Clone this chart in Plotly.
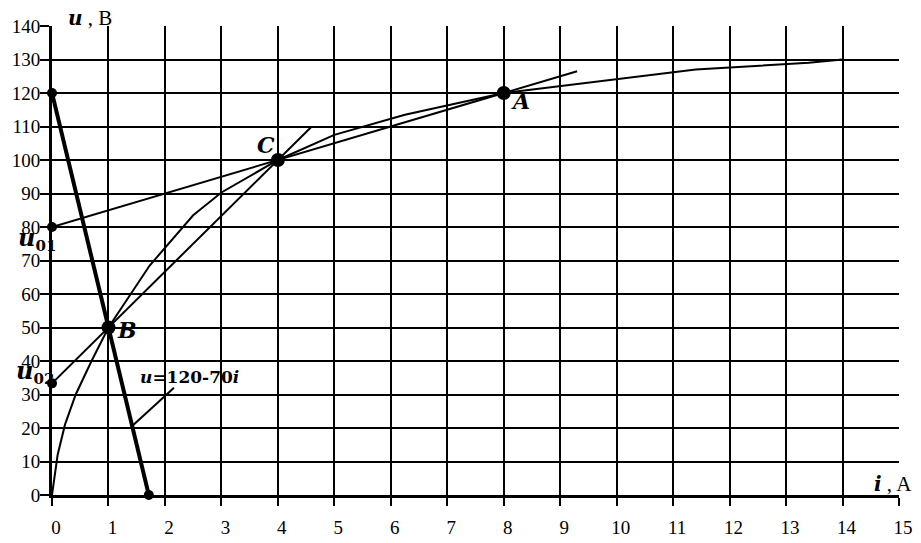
import plotly.graph_objects as go

# Nonlinear characteristic u(i)
curve_i = [0, 0.1, 0.23, 0.42, 0.7, 1.0, 1.73, 2.5, 3.0, 4.0, 5.0, 6.25, 8.0, 11.4, 13.4, 14.0]
curve_u = [0, 12, 21, 30, 40, 50, 68.5, 83.5, 90.3, 100, 107.5, 113.5, 120, 127, 129, 130]

# Load line u = 120 - 70 i
load_i = [0, 1.7143]
load_u = [120, 0]

# Linearisation through C and A (u01 = 80)
lin1_i = [0, 4, 8, 9.3]
lin1_u = [80, 100, 120, 126.5]

# Linearisation through B and C (u02 = 33.3)
lin2_i = [0, 1, 4, 4.6]
lin2_u = [33.33, 50, 100, 110]

# Leader line for the load-line label
lead_i = [1.4, 2.16]
lead_u = [20.3, 32]

# Points
big_i = [8, 1, 4]
big_u = [120, 50, 100]
small_i = [0, 0, 0, 1.7143]
small_u = [120, 80, 33.33, 0]

x_ticks = list(range(0, 16))
y_ticks = list(range(0, 141, 10))

FONT = "Liberation Serif"
DJ = "DejaVu Serif"

fig = go.Figure()
fig.add_trace(go.Scatter(x=curve_i, y=curve_u, mode="lines",
                         line=dict(color="black", width=2), cliponaxis=False))
fig.add_trace(go.Scatter(x=lin1_i, y=lin1_u, mode="lines",
                         line=dict(color="black", width=2), cliponaxis=False))
fig.add_trace(go.Scatter(x=lin2_i, y=lin2_u, mode="lines",
                         line=dict(color="black", width=2), cliponaxis=False))
fig.add_trace(go.Scatter(x=load_i, y=load_u, mode="lines",
                         line=dict(color="black", width=4), cliponaxis=False))
fig.add_trace(go.Scatter(x=lead_i, y=lead_u, mode="lines",
                         line=dict(color="black", width=2), cliponaxis=False))
fig.add_trace(go.Scatter(x=small_i, y=small_u, mode="markers",
                         marker=dict(color="black", size=10), cliponaxis=False))
fig.add_trace(go.Scatter(x=big_i, y=big_u, mode="markers",
                         marker=dict(color="black", size=14), cliponaxis=False))

ann = []
def A(text, x, y, size, family=DJ, xref="x", yref="y", xanchor="center"):
    ann.append(dict(text=text, x=x, y=y, xref=xref, yref=yref, showarrow=False,
                    font=dict(family=family, size=size, color="black"),
                    xanchor=xanchor, yanchor="middle"))

A("<b><i>C</i></b>", 3.79, 104.5, 22)
A("<b><i>A</i></b>", 8.3, 117.6, 22)
A("<b><i>B</i></b>", 1.33, 49.3, 22)
A("<b><i>u</i>=120-70<i>i</i></b>", 2.44, 35.3, 17)
A("<b><i>u</i></b><span style='font-family:Liberation Serif;font-size:21px'> , B</span>",
  0.0165, 1.017, 20, xref="paper", yref="paper", xanchor="left")
A("<b><i>i</i></b><span style='font-family:Liberation Serif;font-size:21px'> , A</span>",
  0.968, 0.0235, 20, xref="paper", yref="paper", xanchor="left")
A("<b><i>u</i><sub><span style='font-size:15px'>01</span></sub></b>",
  -0.0425, 0.545, 24, xref="paper", yref="paper", xanchor="left")
A("<b><i>u</i><sub><span style='font-size:15px'>02</span></sub></b>",
  -0.045, 0.262, 24, xref="paper", yref="paper", xanchor="left")

# page body has an 8px margin: shift the figure accordingly
fig.update_layout(
    width=913, height=535,
    margin=dict(l=44, r=22, t=18, b=48, autoexpand=False),
    paper_bgcolor="white", plot_bgcolor="white",
    showlegend=False,
    font=dict(family=FONT, size=19, color="black"),
    annotations=ann,
)
fig.update_xaxes(range=[0, 15], tickvals=x_ticks, ticktext=[str(v) for v in x_ticks],
                 showgrid=True, gridcolor="black", gridwidth=1.5, automargin=False,
                 showline=True, linecolor="black", linewidth=3,
                 ticks="outside", ticklen=8, tickwidth=2, tickcolor="black",
                 ticklabelstandoff=5, ticklabelshift=4, zeroline=False)
fig.update_yaxes(range=[0, 140], tickvals=y_ticks, ticktext=[str(v) for v in y_ticks],
                 showgrid=True, gridcolor="black", gridwidth=1.5, automargin=False,
                 showline=True, linecolor="black", linewidth=3,
                 ticks="outside", ticklen=9, tickwidth=2, tickcolor="black",
                 ticklabelstandoff=-4, zeroline=False)

fig.write_html("out.html")
